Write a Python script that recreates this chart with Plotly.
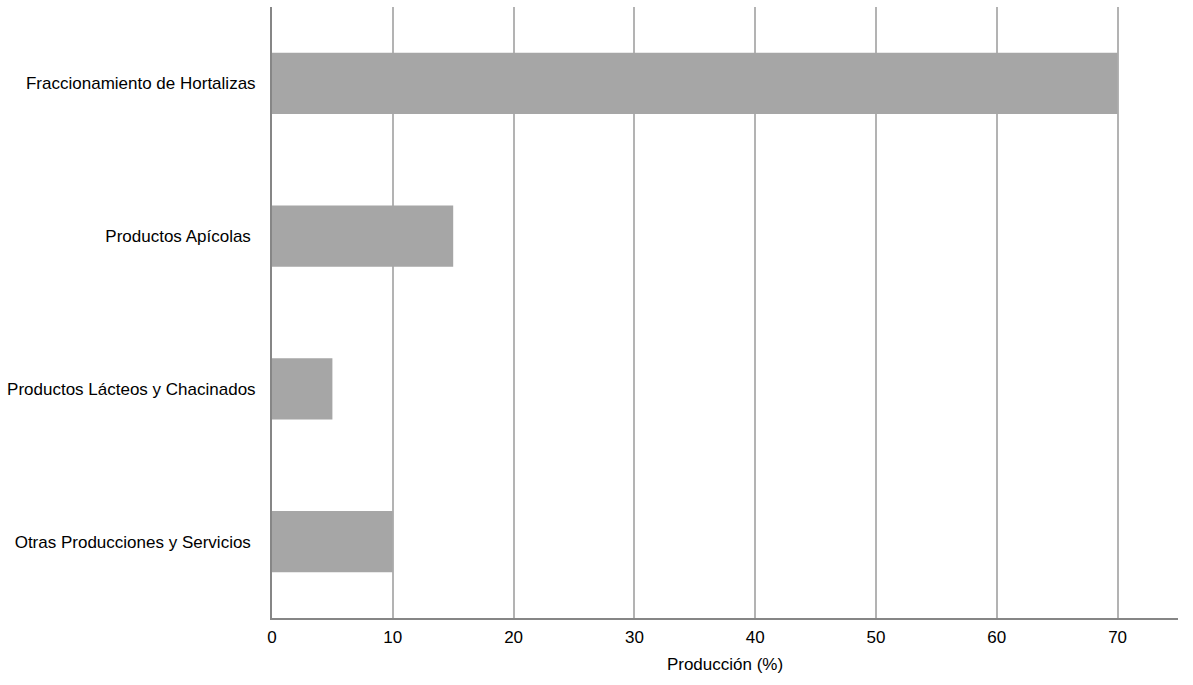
import plotly.graph_objects as go

categorias = [
    "Fraccionamiento de Hortalizas",
    "Productos Apícolas ",
    "Productos Lácteos y Chacinados",
    "Otras Producciones y Servicios ",
]
produccion = [70, 15, 5, 10]
ticks_x = [0, 10, 20, 30, 40, 50, 60, 70]

fig = go.Figure()
fig.add_trace(go.Bar(
    y=categorias,
    x=produccion,
    orientation="h",
    marker=dict(color="#a6a6a6", line=dict(width=0)),
))

fig.update_layout(
    width=1193,
    height=685,
    margin=dict(l=272, r=15, t=7, b=67),
    paper_bgcolor="white",
    plot_bgcolor="white",
    bargap=0.6,
    showlegend=False,
    font=dict(family="Liberation Sans, Arial, sans-serif", size=17, color="#000000"),
)
fig.update_xaxes(
    range=[0, 75],
    tickvals=ticks_x,
    showgrid=True,
    gridcolor="#b3b3b3",
    gridwidth=2,
    zeroline=False,
    showline=True,
    linecolor="#868686",
    linewidth=2,
    ticks="",
    ticklabelstandoff=3,
    title=dict(text="Producción (%)", standoff=12, font=dict(size=17)),
)
fig.update_yaxes(
    autorange="reversed",
    showgrid=False,
    zeroline=False,
    showline=True,
    linecolor="#868686",
    linewidth=2,
    ticks="",
    ticklabelstandoff=11,
)

# quitar el margen del body para que el grafico quede en (0, 0)
fig.write_html(
    "out.html",
    config={"displayModeBar": False},
    post_script="document.body.style.margin='0';",
)
